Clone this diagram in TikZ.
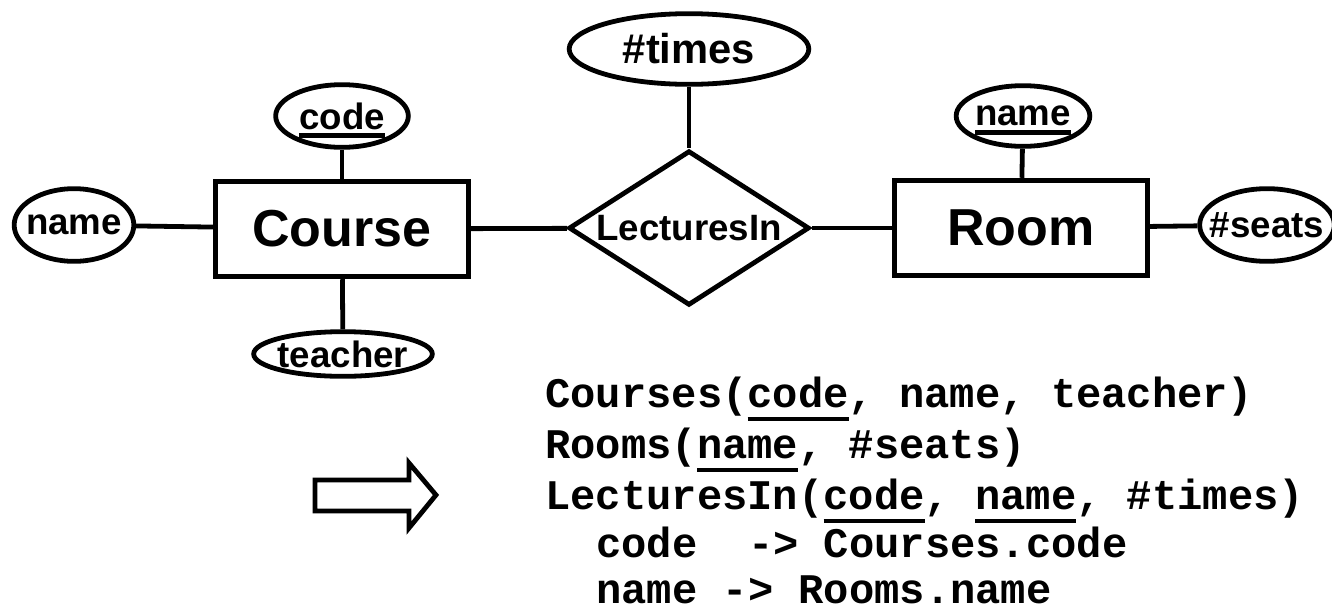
\documentclass[tikz,border=0pt]{standalone}
\usepackage{fontspec}
\setmainfont{Liberation Sans}
\setmonofont{Liberation Mono}
\usetikzlibrary{shapes.geometric}
\frenchspacing
% thick underline for key attributes
\newcommand{\keyattr}[1]{\setbox0=\hbox{#1}\rlap{\smash{\rule[-6.75pt]{\wd0}{3.5pt}}}\box0}
\newcommand{\keycol}[1]{\setbox0=\hbox{#1}\rlap{\smash{\rule[-10.5pt]{\wd0}{3.25pt}}}\box0}

\begin{document}
\begin{tikzpicture}[x=0.75pt,y=-0.75pt,line width=3.6pt,line join=miter,
  attr/.style={ellipse,draw,inner xsep=-12pt,inner ysep=0pt,font=\bfseries\fontsize{27.5}{33}\selectfont},
  entity/.style={rectangle,draw,minimum width=189.5pt,minimum height=71.75pt,font=\bfseries\fontsize{39}{47}\selectfont},
  rel/.style={diamond,draw,aspect=1.5,inner sep=0pt,minimum width=180.5pt,minimum height=116pt,font=\bfseries\fontsize{27.5}{33}\selectfont},
  schema/.style={anchor=base west,inner sep=0pt,font=\ttfamily\bfseries\fontsize{31.6}{38}\selectfont}]
  \useasboundingbox (0,0) rectangle (1332,611);
  % entities and relationship
  \node[entity] (course) at (342,229) {Course};
  \node[entity] (room) at (1021,228) {Room};
  \node[rel] (lectures) at (689,228) {LecturesIn};
  % attributes
  \node[attr,minimum width=99.5pt,minimum height=47pt] (ccode) at (342,116) {\keyattr{code}};
  \node[attr,minimum width=89.75pt,minimum height=54.5pt] (cname) at (74,225) {name};
  \node[attr,minimum width=134pt,minimum height=33.5pt] (cteacher) at (343,354) {teacher};
  \node[attr,minimum width=179.75pt,minimum height=53pt,font=\bfseries\fontsize{31.3}{37}\selectfont] (ltimes) at (689,49) {\#times};
  \node[attr,minimum width=100.25pt,minimum height=45.5pt] (rname) at (1023,116) {\keyattr{name}};
  \node[attr,minimum width=101pt,minimum height=54.5pt] (rseats) at (1267,225) {\#seats};
  \path
    (ccode) edge (course)
    (cname) edge (course)
    (cteacher) edge (course)
    (course) edge (lectures)
    (ltimes) edge (lectures)
    (lectures) edge (room)
    (rname) edge (room)
    (rseats) edge (room);
  % translation arrow
  \draw (315,480) -- (409,480) -- (409,463) -- (436,495) -- (409,528) -- (409,511) -- (315,511) -- cycle;
  % relations
  \node[schema] (courses) at (543,407) {Courses(\keycol{code}, name, teacher)};
  \node[schema] (rooms) at (543,458) {Rooms(\keycol{name}, \#seats)};
  \node[schema] (lecturesin) at (543,509) {LecturesIn(\keycol{code}, \keycol{name}, \#times)};
  \node[schema] (fkcode) at (594,557) {code\ \ -> Courses.code};
  \node[schema] (fkname) at (594,603) {name -> Rooms.name};
\end{tikzpicture}
\end{document}
